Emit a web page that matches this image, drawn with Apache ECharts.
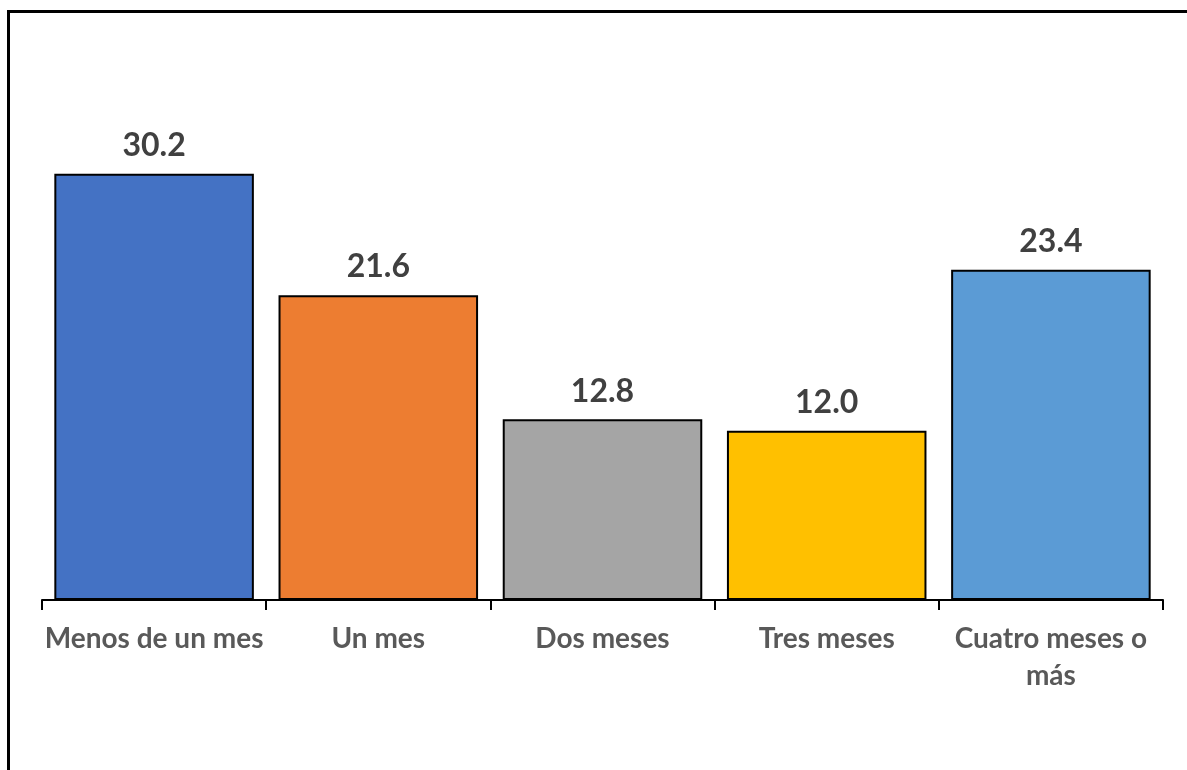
<!DOCTYPE html>
<html>
<head>
<meta charset="utf-8">
<script src="https://cdn.jsdelivr.net/npm/echarts@6/dist/echarts.min.js"></script>
<style>
  html, body { margin: 0; padding: 0; background: #fff; }
  #main { width: 1187px; height: 770px; }
</style>
</head>
<body>
<div id="main"></div>
<script>
// categories and values (percent)
var categories = ['Menos de un mes', 'Un mes', 'Dos meses', 'Tres meses', 'Cuatro meses o\nmás']
var values = [30.2, 21.6, 12.8, 12.0, 23.4]
var barColors = ['#4472c4', '#ed7d31', '#a5a5a5', '#ffc000', '#5b9bd5']

var chart = echarts.init(document.getElementById('main'))

var option = {
  animation: false,
  backgroundColor: '#fff',
  textStyle: { fontFamily: 'Lato, "Open Sans", sans-serif' },
  grid: {
    left: 42,
    right: 24,
    top: 106,
    bottom: 170,
    containLabel: false
  },
  // frame lines (top and left edges of the chart box)
  graphic: [
    {
      type: 'polyline',
      shape: { points: [[8.5, 800], [8.5, 11.5], [1200, 11.5]] },
      style: { stroke: '#000', lineWidth: 3, fill: null }
    }
  ],
  xAxis: {
    type: 'category',
    data: categories,
    boundaryGap: true,
    axisLine: { lineStyle: { color: '#000', width: 2 } },
    axisTick: { show: true, length: 10, lineStyle: { color: '#000', width: 2 } },
    axisLabel: {
      interval: 0,
      color: '#595959',
      fontSize: 28,
      fontWeight: 'bold',
      margin: 20,
      lineHeight: 37
    }
  },
  yAxis: {
    type: 'value',
    min: 0,
    max: 35,
    show: false,
    splitLine: { show: false }
  },
  series: [
    {
      type: 'bar',
      barCategoryGap: '11%',
      data: values.map(function (v, i) {
        return { value: v, itemStyle: { color: barColors[i] } }
      }),
      itemStyle: { borderColor: '#000', borderWidth: 2 },
      label: {
        show: true,
        position: 'top',
        distance: 12,
        color: '#404040',
        fontSize: 32,
        fontWeight: 'bold',
        formatter: function (p) { return p.value.toFixed(1) }
      }
    }
  ]
}

chart.setOption(option, true)
</script>
</body>
</html>
